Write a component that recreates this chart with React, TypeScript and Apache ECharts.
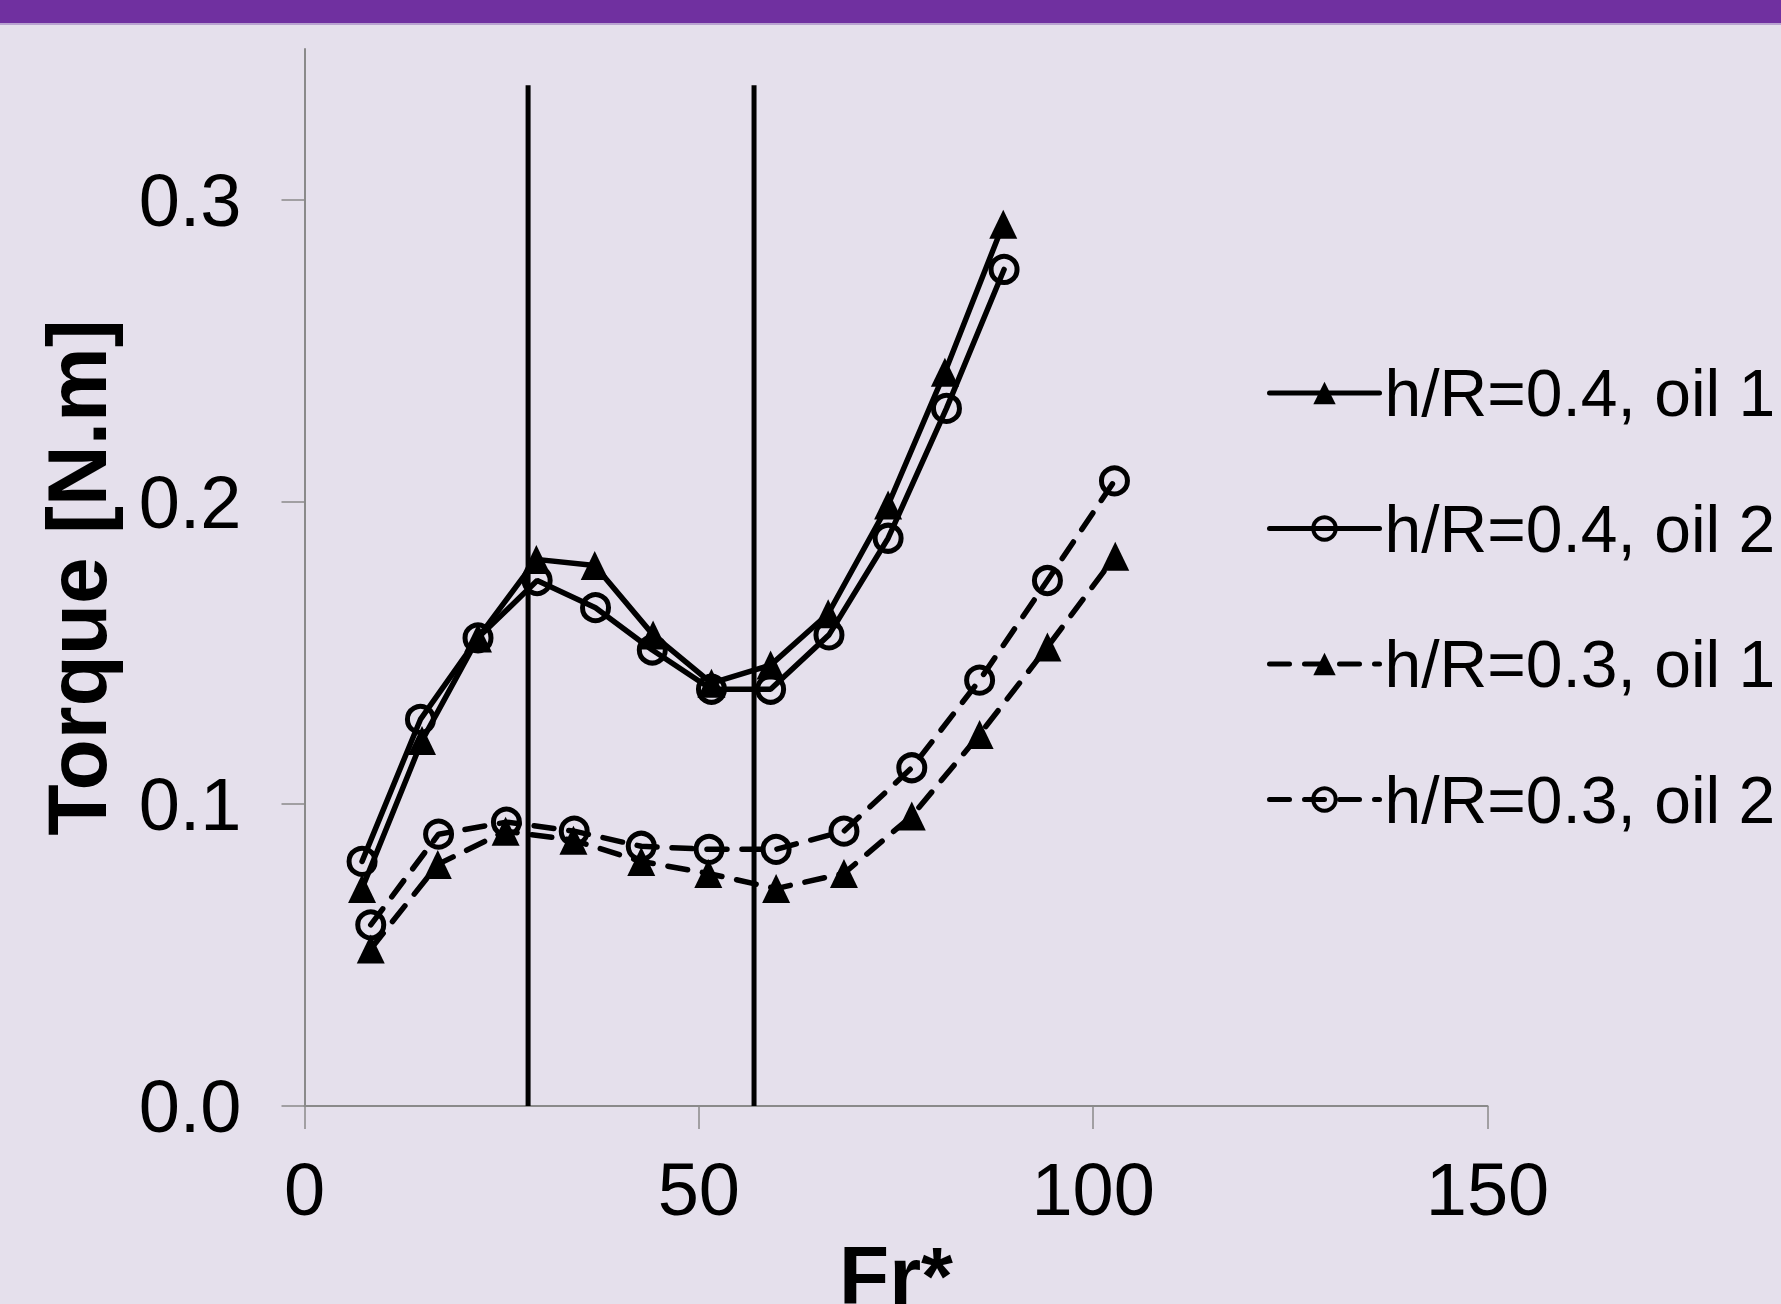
import React, { useEffect, useRef } from "react";
import * as echarts from "echarts";

// Fr* values and torque [N.m] for each series
const frH04Oil1 = [7.3, 14.9, 22.0, 29.4, 36.8, 44.2, 51.6, 59.1, 66.4, 74.0, 81.2, 88.6];
const tqH04Oil1 = [0.072, 0.121, 0.155, 0.181, 0.179, 0.156, 0.140, 0.146, 0.163, 0.199, 0.243, 0.292];

const frH04Oil2 = [7.3, 14.7, 22.0, 29.5, 36.9, 44.1, 51.6, 59.1, 66.5, 74.0, 81.4, 88.7];
const tqH04Oil2 = [0.081, 0.128, 0.155, 0.174, 0.165, 0.151, 0.138, 0.138, 0.156, 0.188, 0.231, 0.277];

const frH03Oil1 = [8.4, 16.9, 25.5, 34.1, 42.7, 51.2, 59.8, 68.4, 77.0, 85.6, 94.2, 102.8];
const tqH03Oil1 = [0.052, 0.080, 0.091, 0.088, 0.081, 0.077, 0.072, 0.077, 0.096, 0.123, 0.152, 0.182];

const frH03Oil2 = [8.4, 17.0, 25.6, 34.2, 42.7, 51.3, 59.8, 68.4, 77.0, 85.6, 94.2, 102.7];
const tqH03Oil2 = [0.060, 0.090, 0.094, 0.091, 0.086, 0.085, 0.085, 0.091, 0.112, 0.141, 0.174, 0.207];

const seriesNames = ["h/R=0.4, oil 1", "h/R=0.4, oil 2", "h/R=0.3, oil 1", "h/R=0.3, oil 2"];

// vertical regime boundaries
const boundaryFr = [28.35, 57.0];
const boundaryTop = 0.338;

const yTicks = [0, 0.1, 0.2, 0.3];
const xTicks = [0, 50, 100, 150];

const FONT = "'Liberation Sans', Arial, sans-serif";

function pairs(xs: number[], ys: number[]) {
  return xs.map((x, i) => [x, ys[i]]);
}

export default function App() {
  const ref = useRef<HTMLDivElement>(null);

  useEffect(() => {
    document.body.style.margin = "0";
    if (!ref.current) return;
    const chart = echarts.init(ref.current, null, { renderer: "svg" });

    const lineW = 5.5;
    const dash = [20, 15];
    const triSize = [28, 29];
    const circSize = 26;

    const boundarySeries = boundaryFr.map((fr, i) => ({
      name: "boundary" + i,
      type: "line",
      data: [
        [fr, 0],
        [fr, boundaryTop],
      ],
      showSymbol: false,
      symbol: "none",
      silent: true,
      lineStyle: { color: "#000", width: 5 },
      z: 1,
    }));

    const mk = (name: string, data: number[][], tri: boolean, dashed: boolean) => ({
      name,
      type: "line",
      data,
      symbol: tri ? "triangle" : "circle",
      symbolSize: tri ? triSize : circSize,
      itemStyle: tri
        ? { color: "#000", borderWidth: 0 }
        : { color: "rgba(0,0,0,0)", borderColor: "#000", borderWidth: 5 },
      lineStyle: { color: "#000", width: lineW, type: dashed ? dash : "solid", cap: "round" },
      z: 3,
    });

    chart.setOption({
      animation: false,
      backgroundColor: "#E5E0EC",
      textStyle: { fontFamily: FONT },
      graphic: [
        { type: "rect", left: 0, top: 0, shape: { x: 0, y: 0, width: 1781, height: 23 }, style: { fill: "#7030A0" }, silent: true },
        { type: "rect", left: 0, top: 23, shape: { x: 0, y: 0, width: 1781, height: 2 }, style: { fill: "#B9A3D0" }, silent: true },
      ],
      grid: { left: 304.5, top: 49, width: 1183, height: 1057, containLabel: false, outerBoundsMode: "none" },
      legend: {
        data: seriesNames,
        orient: "vertical",
        left: 1262,
        top: 355,
        itemWidth: 110,
        itemHeight: 28,
        itemGap: 69.5,
        lineStyle: { width: 5 },
        itemStyle: { borderWidth: 4 },
        textStyle: { fontSize: 66, color: "#000", fontFamily: FONT, lineHeight: 66 },
      },
      xAxis: {
        type: "value",
        min: 0,
        max: 150,
        interval: 50,
        name: "Fr*",
        nameLocation: "middle",
        nameGap: 128,
        nameTextStyle: { fontSize: 82, fontWeight: "bold", color: "#000", fontFamily: FONT },
        axisLine: { show: true, onZero: false, lineStyle: { color: "#8A8A8A", width: 2 } },
        axisTick: { show: true, length: 23, inside: false, customValues: xTicks, lineStyle: { color: "#8A8A8A", width: 1.5 } },
        axisLabel: { fontSize: 74, color: "#000", margin: 46, customValues: xTicks, fontFamily: FONT },
        splitLine: { show: false },
      },
      yAxis: {
        type: "value",
        min: 0,
        max: 0.35,
        interval: 0.1,
        name: "Torque [N.m]",
        nameLocation: "middle",
        nameRotate: 90,
        nameGap: 186,
        nameTextStyle: { fontSize: 84, fontWeight: "bold", color: "#000", fontFamily: FONT },
        axisLine: { show: true, onZero: false, lineStyle: { color: "#8A8A8A", width: 2 } },
        axisTick: { show: true, length: 23, inside: false, customValues: yTicks, lineStyle: { color: "#8A8A8A", width: 1.5 } },
        axisLabel: {
          fontSize: 74,
          color: "#000",
          margin: 63,
          fontFamily: FONT,
          customValues: yTicks,
          formatter: (v: number) => (v > 0.31 ? "" : v.toFixed(1)),
        },
        splitLine: { show: false },
      },
      series: [
        ...boundarySeries,
        mk(seriesNames[0], pairs(frH04Oil1, tqH04Oil1), true, false),
        mk(seriesNames[1], pairs(frH04Oil2, tqH04Oil2), false, false),
        mk(seriesNames[2], pairs(frH03Oil1, tqH03Oil1), true, true),
        mk(seriesNames[3], pairs(frH03Oil2, tqH03Oil2), false, true),
      ],
    });

    return () => chart.dispose();
  }, []);

  return (
    <div
      ref={ref}
      style={{ position: "absolute", left: 0, top: 0, width: 1781, height: 1304 }}
    />
  );
}
